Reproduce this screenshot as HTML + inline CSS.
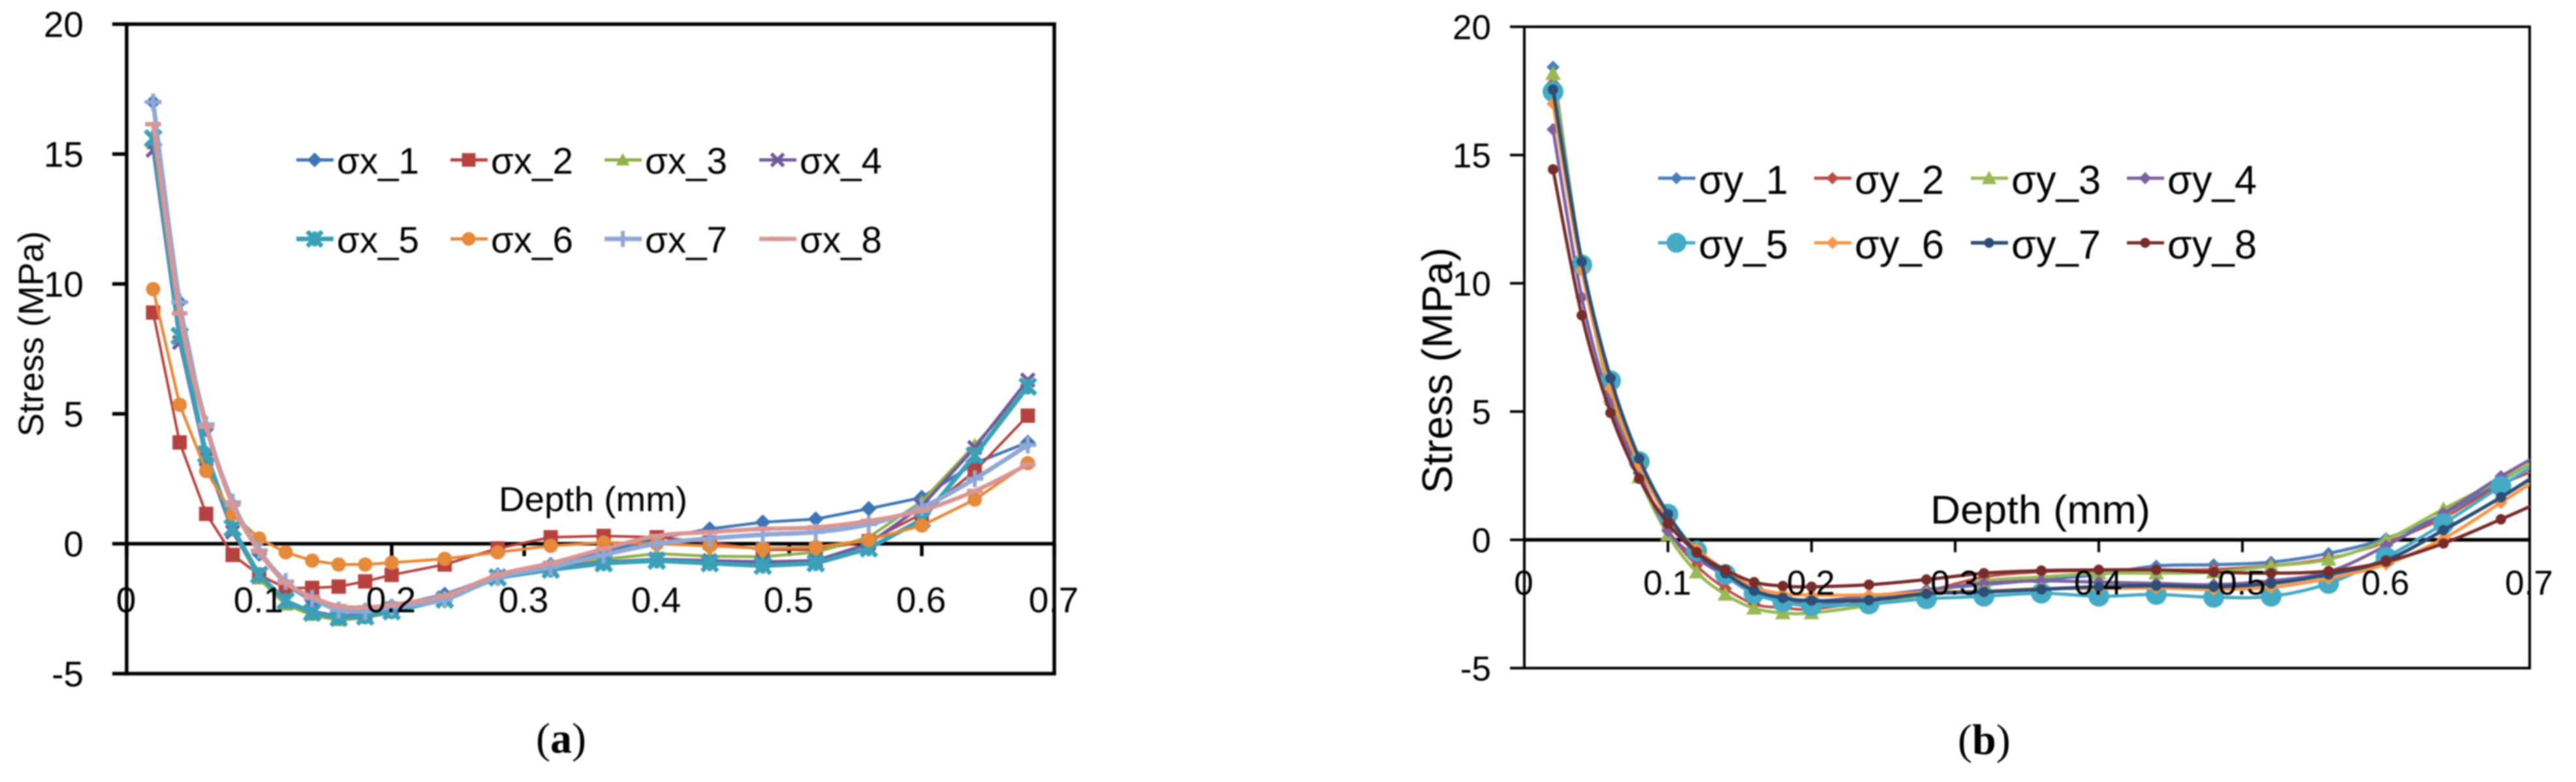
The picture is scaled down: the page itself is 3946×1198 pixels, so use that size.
<!DOCTYPE html>
<html>
<head>
<meta charset="utf-8">
<title>Stress versus depth charts</title>
<style>
html,body{margin:0;padding:0;background:#fff;width:3946px;height:1198px;overflow:hidden}
#figure{display:block;filter:blur(1.1px)}
text{font-family:"Liberation Sans",sans-serif;fill:#000}
.cap{font-family:"Liberation Serif",serif;font-size:66px}
</style>
</head>
<body>
<svg id="figure" xmlns="http://www.w3.org/2000/svg" width="3946" height="1198" viewBox="0 0 3946 1198">
  <rect width="3946" height="1198" fill="#fff"/>
  <defs>
    <clipPath id="clip-b"><rect x="2335" y="41" width="1540" height="983"/></clipPath>
  </defs>
  <g id="chart-a"></g>
  <g id="chart-b"></g>
  <text transform="translate(66,669) rotate(-90)" font-size="54" textLength="315" lengthAdjust="spacingAndGlyphs">Stress (MPa)</text>
  <text x="764" y="783" font-size="53" textLength="289" lengthAdjust="spacingAndGlyphs">Depth (mm)</text>
  <text transform="translate(2224,756) rotate(-90)" font-size="65" textLength="377" lengthAdjust="spacingAndGlyphs">Stress (MPa)</text>
  <text x="2957" y="802" font-size="61" textLength="337" lengthAdjust="spacingAndGlyphs">Depth (mm)</text>
  <text class="cap" x="821" y="1153" style="font-family:'Liberation Serif',serif">(<tspan font-weight="bold">a</tspan>)</text>
  <text class="cap" x="2999" y="1155" style="font-family:'Liberation Serif',serif">(<tspan font-weight="bold">b</tspan>)</text>
</svg>
<script>
const depthsA = [0.02,0.04,0.06,0.08,0.10,0.12,0.14,0.16,0.18,0.20,0.24,0.28,0.32,0.36,0.40,0.44,0.48,0.52,0.56,0.60,0.64,0.68];
const depthsB = [0.02,0.04,0.06,0.08,0.10,0.12,0.14,0.16,0.18,0.20,0.24,0.28,0.32,0.36,0.40,0.44,0.48,0.52,0.56,0.60,0.64,0.68,0.72];
const yTickLabels = [20,15,10,5,0,-5];
const xTickLabels = [0,0.1,0.2,0.3,0.4,0.5,0.6,0.7];
const namesA = ["σx_1","σx_2","σx_3","σx_4","σx_5","σx_6","σx_7","σx_8"];
const namesB = ["σy_1","σy_2","σy_3","σy_4","σy_5","σy_6","σy_7","σy_8"];

const sigmaX1 = [17.0,9.3,4.4,1.5,-0.4,-1.6,-2.2,-2.55,-2.55,-2.4,-1.95,-1.2,-0.8,-0.3,0.2,0.57,0.83,0.95,1.35,1.78,3.1,3.9];
const sigmaX2 = [8.9,3.9,1.15,-0.43,-1.2,-1.7,-1.7,-1.65,-1.45,-1.2,-0.8,-0.18,0.25,0.3,0.25,0.05,-0.23,-0.23,0.1,1.15,2.8,4.93];
const sigmaX3 = [15.4,7.9,3.3,0.5,-1.35,-2.35,-2.75,-2.95,-2.85,-2.65,-2.15,-1.3,-0.95,-0.6,-0.38,-0.48,-0.5,-0.33,0.25,1.63,3.8,6.0];
const sigmaX4 = [15.15,7.75,3.25,0.45,-1.2,-2.2,-2.6,-2.8,-2.7,-2.5,-2.1,-1.3,-0.95,-0.7,-0.6,-0.65,-0.7,-0.65,0,1.45,3.7,6.3];
const sigmaX5 = [15.6,8.0,3.45,0.6,-1.2,-2.2,-2.65,-2.85,-2.8,-2.6,-2.15,-1.3,-1.0,-0.75,-0.65,-0.75,-0.85,-0.75,-0.18,0.93,3.4,6.05];
const sigmaX6 = [9.8,5.35,2.8,1.15,0.2,-0.33,-0.65,-0.8,-0.8,-0.73,-0.58,-0.33,-0.08,0.05,0.0,-0.08,-0.18,-0.13,0.15,0.7,1.7,3.1];
const sigmaX7 = [17.0,9.3,4.6,1.6,-0.25,-1.45,-2.1,-2.55,-2.6,-2.45,-2.15,-1.3,-0.9,-0.43,0.0,0.2,0.35,0.45,0.75,1.4,2.5,3.8];
const sigmaX8 = [16.15,8.87,4.5,1.5,-0.3,-1.5,-2.05,-2.4,-2.45,-2.35,-2.0,-1.2,-0.75,-0.2,0.3,0.45,0.57,0.63,0.88,1.28,2.03,3.05];

const sigmaY1 = [18.43,10.8,6.2,3.1,0.9,-0.5,-1.4,-2.1,-2.4,-2.5,-2.3,-1.95,-1.75,-1.55,-1.35,-1.02,-0.97,-0.87,-0.53,0.05,1.0,2.3,3.6];
const sigmaY2 = [17.8,10.6,5.8,2.6,0.4,-1.0,-1.9,-2.5,-2.65,-2.7,-2.4,-2.0,-1.45,-1.25,-1.2,-1.17,-1.15,-1.0,-0.72,-0.1,0.85,2.15,3.05];
const sigmaY3 = [18.17,10.8,5.6,2.45,0.2,-1.26,-2.13,-2.67,-2.85,-2.85,-2.55,-2.1,-1.6,-1.45,-1.3,-1.3,-1.26,-1.02,-0.76,0,1.2,2.35,3.55];
const sigmaY4 = [16.0,9.45,5.3,2.6,0.35,-0.7,-1.4,-2.0,-2.3,-2.4,-2.2,-1.95,-1.7,-1.6,-1.65,-1.7,-1.75,-1.6,-1.25,-0.23,1.03,2.47,3.73];
const sigmaY5 = [17.47,10.72,6.2,3.05,1.0,-0.43,-1.35,-2.09,-2.42,-2.57,-2.5,-2.3,-2.2,-2.08,-2.2,-2.13,-2.24,-2.2,-1.7,-0.68,0.63,2.09,3.5];
const sigmaY6 = [17.0,10.5,5.9,2.9,0.85,-0.35,-1.2,-1.85,-2.1,-2.15,-2.15,-2.05,-2.0,-1.9,-1.9,-1.88,-1.93,-1.85,-1.5,-0.95,0.05,1.45,2.9];
const sigmaY7 = [17.55,10.85,6.3,3.17,1.0,-0.5,-1.3,-1.98,-2.26,-2.37,-2.35,-2.1,-2.03,-1.93,-1.83,-1.79,-1.83,-1.7,-1.35,-0.8,0.38,1.66,3.08];
const sigmaY8 = [14.44,8.75,4.95,2.38,0.63,-0.48,-1.17,-1.65,-1.8,-1.83,-1.75,-1.55,-1.3,-1.2,-1.17,-1.17,-1.26,-1.3,-1.22,-0.85,-0.14,0.8,1.8];

const NS = "http://www.w3.org/2000/svg";

function mk(parent, tag, attrs) {
  const el = document.createElementNS(NS, tag);
  for (const k in attrs) el.setAttribute(k, attrs[k]);
  parent.appendChild(el);
  return el;
}

function linePath(pts) {
  return pts.map((p, i) => (i ? "L" : "M") + p[0].toFixed(1) + " " + p[1].toFixed(1)).join("");
}

function smoothPath(pts) {
  let d = "M" + pts[0][0].toFixed(1) + " " + pts[0][1].toFixed(1);
  for (let i = 0; i < pts.length - 1; i++) {
    const p0 = pts[Math.max(0, i - 1)], p1 = pts[i], p2 = pts[i + 1], p3 = pts[Math.min(pts.length - 1, i + 2)];
    const c1x = p1[0] + (p2[0] - p0[0]) / 6, c1y = p1[1] + (p2[1] - p0[1]) / 6;
    const c2x = p2[0] - (p3[0] - p1[0]) / 6, c2y = p2[1] - (p3[1] - p1[1]) / 6;
    d += "C" + c1x.toFixed(1) + " " + c1y.toFixed(1) + " " + c2x.toFixed(1) + " " + c2y.toFixed(1) + " " + p2[0].toFixed(1) + " " + p2[1].toFixed(1);
  }
  return d;
}

function drawMarker(g, kind, x, y, s, color) {
  let el;
  if (kind === "circle") {
    el = mk(g, "circle", {cx: x, cy: y, r: s, fill: color});
  } else if (kind === "square") {
    el = mk(g, "rect", {x: x - s, y: y - s, width: 2 * s, height: 2 * s, fill: color});
  } else if (kind === "diamond") {
    el = mk(g, "path", {d: "M" + x + " " + (y - s) + "L" + (x + s) + " " + y + "L" + x + " " + (y + s) + "L" + (x - s) + " " + y + "Z", fill: color});
  } else if (kind === "triangle") {
    el = mk(g, "path", {d: "M" + x + " " + (y - s) + "L" + (x + s) + " " + (y + s * 0.8) + "L" + (x - s) + " " + (y + s * 0.8) + "Z", fill: color});
  } else if (kind === "x") {
    el = mk(g, "path", {d: "M" + (x - s) + " " + (y - s) + "L" + (x + s) + " " + (y + s) + "M" + (x + s) + " " + (y - s) + "L" + (x - s) + " " + (y + s), stroke: color, "stroke-width": 5.5, fill: "none"});
  } else if (kind === "star") {
    el = mk(g, "path", {d: "M" + (x - s) + " " + (y - s) + "L" + (x + s) + " " + (y + s) + "M" + (x + s) + " " + (y - s) + "L" + (x - s) + " " + (y + s) + "M" + x + " " + (y - s) + "L" + x + " " + (y + s), stroke: color, "stroke-width": 7, fill: "none"});
  } else if (kind === "plus") {
    el = mk(g, "path", {d: "M" + (x - s) + " " + y + "L" + (x + s) + " " + y + "M" + x + " " + (y - s) + "L" + x + " " + (y + s), stroke: color, "stroke-width": 6, fill: "none"});
  } else {
    el = mk(g, "path", {d: "M" + (x - s) + " " + y + "L" + (x + s) + " " + y, stroke: color, "stroke-width": 7, fill: "none"});
  }
  
  
}

function renderChart(cfg) {
  const root = document.getElementById(cfg.id);
  const xs = v => cfg.left + (cfg.right - cfg.left) * v / 0.7;
  const ys = v => cfg.zero - cfg.unit * v;
  const top = ys(20), bottom = ys(-5);

  const frame = mk(root, "rect", {x: cfg.left, y: top, width: cfg.right - cfg.left, height: bottom - top, fill: "none", stroke: "#000", "stroke-width": cfg.frameWidth});
  
  

  const axis = mk(root, "line", {x1: cfg.left, x2: cfg.right, y1: ys(0), y2: ys(0), stroke: "#000", "stroke-width": 5.5});
  
  

  yTickLabels.forEach(v => {
    const t = mk(root, "line", {x1: cfg.left - 22, x2: cfg.left, y1: ys(v), y2: ys(v), stroke: "#000", "stroke-width": cfg.frameWidth});
    
    
  });
  xTickLabels.forEach(v => {
    const t = mk(root, "line", {x1: xs(v), x2: xs(v), y1: ys(0), y2: ys(0) + 19, stroke: "#000", "stroke-width": cfg.frameWidth});
    
    
  });

  const plot = mk(root, "g", cfg.clip ? {"clip-path": cfg.clip} : {});
  
  

  cfg.series.forEach(s => {
    const g = mk(plot, "g", {});
    
    
    const pts = s.values.map((v, i) => [xs(cfg.depths[i]), ys(v)]);
    const line = mk(g, "path", {d: s.smooth ? smoothPath(pts) : linePath(pts), fill: "none", stroke: s.color, "stroke-width": s.width, "stroke-linejoin": "round"});
    
    
    pts.forEach(p => drawMarker(g, s.marker, p[0], p[1], s.size, s.color));
  });

  yTickLabels.forEach(v => {
    const t = mk(root, "text", {x: cfg.yLabelX, y: ys(v) + cfg.tickFont * 0.358, "text-anchor": "end", "font-size": cfg.tickFont});
    
    
    t.textContent = String(v);
  });
  xTickLabels.forEach(v => {
    const t = mk(root, "text", {x: xs(v) - 1, y: cfg.xLabelY, "text-anchor": "middle", "font-size": cfg.tickFont});
    
    
    t.textContent = String(v);
  });

  cfg.series.forEach((s, i) => {
    const col = i % 4, row = i < 4 ? 0 : 1;
    const g = mk(root, "g", {});
    
    
    const lx = cfg.legendX[col], ly = cfg.legendY[row];
    const l = mk(g, "line", {x1: lx, x2: lx + 57, y1: ly, y2: ly, stroke: s.color, "stroke-width": Math.max(s.width, 5)});
    
    
    drawMarker(g, s.marker, lx + 28, ly, s.size * 0.95, s.color);
    const t = mk(g, "text", {x: lx + cfg.legendTextDx, y: ly + cfg.legendBase, "font-size": cfg.legendFont, textLength: cfg.legendWidth, lengthAdjust: "spacingAndGlyphs"});
    
    
    t.textContent = s.name;
  });
}

renderChart({
  id: "chart-a", depths: depthsA, left: 194, right: 1615, zero: 833, unit: 39.8, frameWidth: 5.5,
  yLabelX: 128, xLabelY: 938, tickFont: 55,
  legendX: [454, 690, 926, 1163], legendY: [245, 366], legendTextDx: 62, legendBase: 21, legendFont: 57, legendWidth: 126,
  series: [
    {name: namesA[0], values: sigmaX1, color: "#3f75b5", marker: "diamond", size: 12, width: 4.5},
    {name: namesA[1], values: sigmaX2, color: "#b5423f", marker: "square", size: 11, width: 4},
    {name: namesA[2], values: sigmaX3, color: "#8fb04a", marker: "triangle", size: 11, width: 4.5},
    {name: namesA[3], values: sigmaX4, color: "#71589a", marker: "x", size: 10, width: 5},
    {name: namesA[4], values: sigmaX5, color: "#3aa0b8", marker: "star", size: 12, width: 7},
    {name: namesA[5], values: sigmaX6, color: "#e5893a", marker: "circle", size: 11, width: 4.5},
    {name: namesA[6], values: sigmaX7, color: "#90a8d6", marker: "plus", size: 13, width: 7, smooth: true},
    {name: namesA[7], values: sigmaX8, color: "#d99694", marker: "dash", size: 12, width: 6.5, smooth: true}
  ]
});

renderChart({
  id: "chart-b", depths: depthsB, left: 2335, right: 3875, zero: 827, unit: 39.3, frameWidth: 4,
  yLabelX: 2284, xLabelY: 911, tickFont: 53, clip: "url(#clip-b)",
  legendX: [2540, 2779, 3019, 3258], legendY: [273, 372], legendTextDx: 62, legendBase: 24, legendFont: 62, legendWidth: 137,
  series: [
    {name: namesB[0], values: sigmaY1, color: "#4a7ebb", marker: "diamond", size: 10, width: 5, smooth: true},
    {name: namesB[1], values: sigmaY2, color: "#be4b48", marker: "diamond", size: 10, width: 4, smooth: true},
    {name: namesB[2], values: sigmaY3, color: "#98b954", marker: "triangle", size: 12, width: 5, smooth: true},
    {name: namesB[3], values: sigmaY4, color: "#7d60a0", marker: "diamond", size: 10, width: 5, smooth: true},
    {name: namesB[4], values: sigmaY5, color: "#46aac5", marker: "circle", size: 16, width: 5, smooth: true},
    {name: namesB[5], values: sigmaY6, color: "#f79646", marker: "diamond", size: 10, width: 5, smooth: true},
    {name: namesB[6], values: sigmaY7, color: "#2c4d75", marker: "circle", size: 8, width: 5.5, smooth: true},
    {name: namesB[7], values: sigmaY8, color: "#772c2a", marker: "circle", size: 8, width: 5, smooth: true}
  ]
});
</script>
</body>
</html>
